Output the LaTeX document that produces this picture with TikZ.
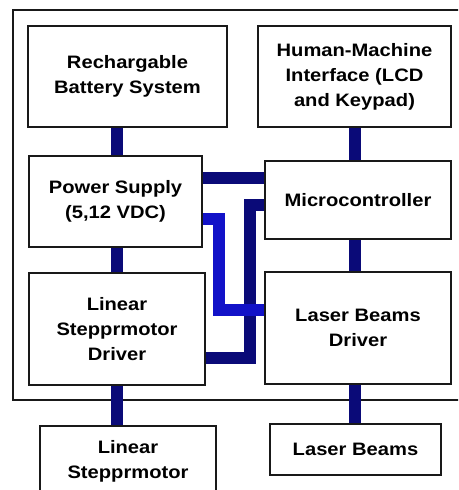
\documentclass[tikz,border=0pt]{standalone}
\usepackage{fontspec}
\setmainfont{Liberation Sans}[FakeStretch=1.12]
\usepackage{tikz}
\usetikzlibrary{calc}
\usepackage{xcolor}
\definecolor{busnavy}{HTML}{0A0A78}
\definecolor{busblue}{HTML}{1212C8}

\begin{document}
\begin{tikzpicture}[x=1pt, y=-1pt,
  block/.style={draw=black!90, line width=1.6pt, align=center,
    font=\fontsize{18}{25}\selectfont\bfseries, inner sep=0pt},
  bus/.style={line width=12pt, busnavy},
  bus2/.style={line width=12pt, busblue}]
  \useasboundingbox (0,0) rectangle (458,490);
  \clip (0,0) rectangle (458,490);

  % Outer frame
  \draw[line width=1.8pt, black!90] (13,10) rectangle (470,400);

  % Blocks inside the frame
  \node[block, minimum width=199pt, minimum height=101pt] (bat) at (127.5,76.5) {Rechargable\\Battery System};
  \node[block, minimum width=193pt, minimum height=101pt] (hmi) at (354.5,76.5) {Human-Machine\\Interface (LCD\\and Keypad)};
  \node[block, minimum width=173pt, minimum height=91pt] (ps) at (115.5,201.5) {Power Supply\\(5,12 VDC)};
  \node[block, minimum width=186pt, minimum height=78pt] (mcu) at (358,200) {Microcontroller};
  \node[block, minimum width=176pt, minimum height=112pt] (lsd) at (117,329) {Linear\\Stepprmotor\\Driver};
  \node[block, minimum width=186pt, minimum height=112pt] (lbd) at (358,328) {Laser Beams\\Driver};

  % Blocks below the frame
  \node[block, minimum width=176pt, minimum height=70pt] (motor) at (128,461) {Linear\\Stepprmotor};
  \node[block, minimum width=171pt, minimum height=51pt] (laser) at (355.5,449.5) {Laser Beams};

  % Vertical buses
  \draw[bus] (lsd.north |- bat.south) -- (lsd.north |- ps.north);
  \draw[bus] (lsd.north |- ps.south) -- (lsd.north);
  \draw[bus] (lsd.south) -- (lsd.south |- motor.north);
  \draw[bus] (hmi.south) -- (hmi.south |- mcu.north);
  \draw[bus] (hmi.south |- mcu.south) -- (hmi.south |- lbd.north);
  \draw[bus] (hmi.south |- lbd.south) -- (hmi.south |- laser.north);

  % Power supply to microcontroller
  \draw[bus] ($(ps.north east)+(0,23)$) -- ($(mcu.north west)+(0,18)$);
  % Microcontroller to stepper driver
  \draw[bus] ($(mcu.north west)+(0,45)$) -| ($(lsd.north east)+(44,86)$) -- ($(lsd.north east)+(0,86)$);
  % Power supply to laser driver
  \draw[bus2] ($(ps.north east)+(0,64)$) -| ($(lbd.north west)+(-45,39)$) -- ($(lbd.north west)+(0,39)$);
\end{tikzpicture}
\end{document}
